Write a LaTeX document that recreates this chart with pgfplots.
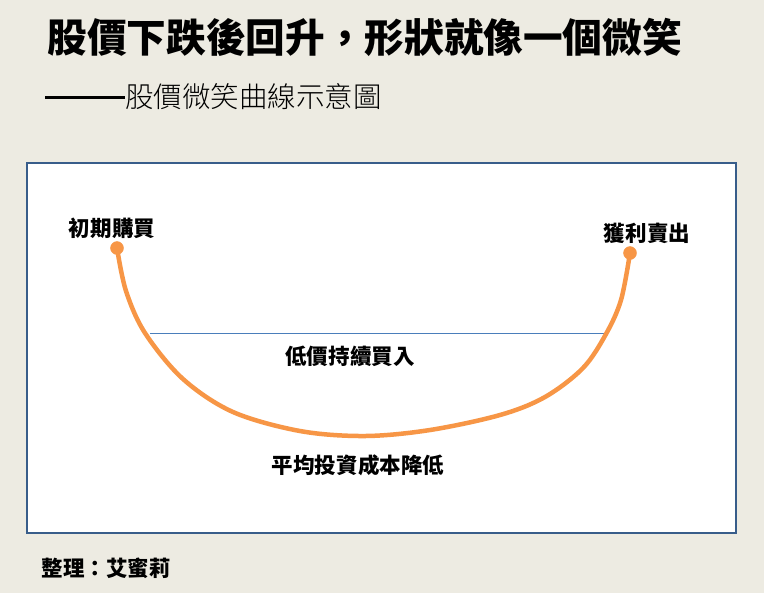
\documentclass[border=0pt]{standalone}
\usepackage{fontspec}
\usepackage{pgfplots}
\pgfplotsset{compat=1.18}
\setmainfont{Noto Sans CJK TC}
\newfontfamily\lightfont{Noto Sans CJK TC}[UprightFont={* Light}]
\definecolor{bgbeige}{RGB}{237,235,226}
\definecolor{boxline}{RGB}{56,93,138}
\definecolor{smile}{RGB}{247,150,70}
\definecolor{buyline}{RGB}{74,126,187}
\begin{document}
\begin{tikzpicture}
\fill[bgbeige] (0,0) rectangle (764bp,-593bp);
\begin{axis}[
  at={(27bp,-533bp)}, anchor=south west,
  width=709bp, height=370bp, scale only axis,
  xmin=27, xmax=736, ymin=163, ymax=533,
  y dir=reverse,
  ticks=none,
  axis background/.style={fill=white},
  axis line style={draw=boxline, line width=1.6bp},
  clip=false,
]
% horizontal "buy at low prices" line
\addplot[buyline, line width=0.9bp] coordinates {(150,333) (606,333)};

% smile curve (pixel coordinates)
\addplot[smile, line width=4.5bp, smooth, tension=0.55] coordinates {
(117,248) (126,291) (145,333) (183,379) (233,412) (300,431) (365,436)
(430,430) (500,415) (545,397) (583,368) (606,334) (621,300) (630,253)
};
\addplot[only marks, mark=*, mark size=6.5bp, smile] coordinates {(117,248) (630,253)};

\node[font=\fontsize{39.8}{40}\selectfont\bfseries, anchor=west] at (axis cs:44,37) {股價下跌後回升，形狀就像一個微笑};
\node[font=\fontsize{28.6}{29}\selectfont\lightfont, anchor=west, inner sep=0pt] at (axis cs:45,97) {\rule[0.3em]{80bp}{3bp}股價微笑曲線示意圖};

\node[font=\fontsize{21.6}{22}\selectfont\bfseries] at (axis cs:112,228) {初期購買};
\node[font=\fontsize{21.6}{22}\selectfont\bfseries] at (axis cs:647,233) {獲利賣出};
\node[font=\fontsize{21.6}{22}\selectfont\bfseries] at (axis cs:350,356) {低價持續買入};
\node[font=\fontsize{21.6}{22}\selectfont\bfseries] at (axis cs:358,465) {平均投資成本降低};
\node[font=\fontsize{21.6}{22}\selectfont\bfseries, anchor=west] at (axis cs:38,568) {整理：艾蜜莉};
\end{axis}
\end{tikzpicture}
\end{document}
